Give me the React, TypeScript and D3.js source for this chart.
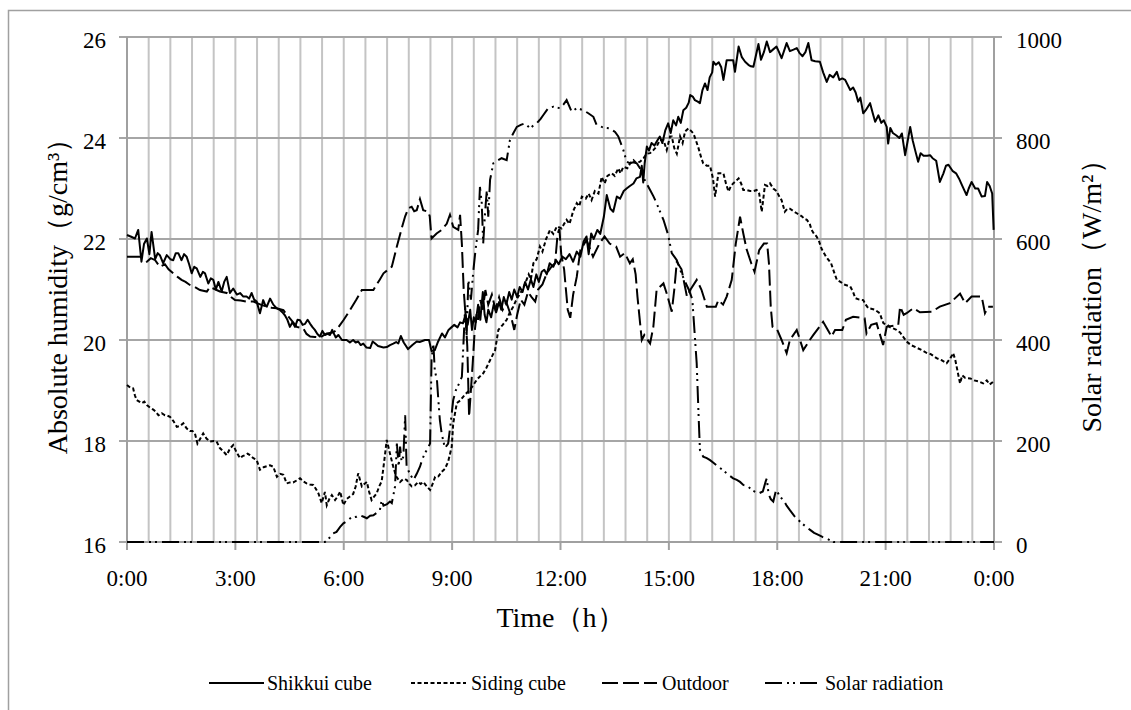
import React from 'react';
import * as d3 from 'd3';

type Pt = [number, number];

// ---- axis ticks / labels ----
const hourTicks = [0, 3, 6, 9, 12, 15, 18, 21, 24];
const hourLabels = ['0:00', '3:00', '6:00', '9:00', '12:00', '15:00', '18:00', '21:00', '0:00'];
const leftTicks = [16, 18, 20, 22, 24, 26];
const rightTicks = [0, 200, 400, 600, 800, 1000];
const gridStepHours = 0.6;

const seriesNames = ['Shikkui cube', 'Siding cube', 'Outdoor', 'Solar radiation'];

// ---- data: [hour, value] ----
const shikkui: Pt[] = [
  [0, 22.08], [0.1, 22.05], [0.22, 22.01], [0.31, 22.18], [0.4, 21.55], [0.47, 21.9], [0.55, 22.01], [0.62, 21.7],
  [0.68, 22.14], [0.78, 21.6], [0.85, 21.72], [0.91, 21.68], [1.0, 21.52], [1.1, 21.68], [1.2, 21.6], [1.28, 21.58],
  [1.35, 21.72], [1.42, 21.72], [1.51, 21.58], [1.58, 21.7], [1.65, 21.65], [1.72, 21.5], [1.79, 21.32], [1.86, 21.45],
  [1.93, 21.42], [2.03, 21.25], [2.1, 21.35], [2.16, 21.32], [2.25, 21.12], [2.32, 21.22], [2.39, 21.19], [2.46, 21.0],
  [2.53, 21.15], [2.62, 20.96], [2.69, 21.15], [2.76, 21.25], [2.85, 20.93], [2.94, 21.02], [3.04, 20.9], [3.13, 20.93],
  [3.22, 20.86], [3.31, 20.86], [3.38, 20.82], [3.45, 20.93], [3.52, 20.8], [3.59, 20.76], [3.68, 20.53], [3.77, 20.79],
  [3.82, 20.7], [3.87, 20.66], [3.96, 20.82], [4.05, 20.7], [4.14, 20.63], [4.24, 20.59], [4.3, 20.55], [4.37, 20.49],
  [4.44, 20.4], [4.51, 20.26], [4.58, 20.35], [4.65, 20.26], [4.72, 20.4], [4.79, 20.39], [4.86, 20.3], [4.93, 20.32],
  [5.0, 20.4], [5.07, 20.32], [5.14, 20.25], [5.2, 20.2], [5.27, 20.12], [5.34, 20.07], [5.41, 20.18], [5.48, 20.1],
  [5.55, 20.12], [5.62, 20.1], [5.68, 20.2], [5.71, 20.15], [5.78, 20.05], [5.85, 20.1], [5.95, 20.0], [6.08, 20.0],
  [6.17, 19.95], [6.26, 20.0], [6.33, 19.95], [6.4, 19.97], [6.47, 19.9], [6.54, 19.93], [6.63, 19.85], [6.73, 19.84],
  [6.8, 19.97], [6.87, 19.93], [6.95, 19.88], [7.0, 19.87], [7.1, 19.85], [7.19, 19.86], [7.28, 19.9], [7.37, 19.93],
  [7.45, 19.96], [7.51, 19.93], [7.58, 20.08], [7.66, 19.95], [7.78, 19.82], [7.9, 19.9], [8.02, 19.97], [8.1, 19.96],
  [8.25, 20.0], [8.36, 20.0], [8.43, 19.78], [8.52, 19.8], [8.6, 19.95], [8.72, 20.13], [8.8, 20.05], [8.9, 20.2],
  [8.98, 20.25], [9.06, 20.3], [9.15, 20.25], [9.22, 20.35], [9.3, 20.33], [9.37, 20.5], [9.43, 20.3], [9.5, 20.6],
  [9.55, 20.2], [9.6, 20.45], [9.65, 20.35], [9.72, 20.7], [9.78, 20.4], [9.85, 20.95], [9.9, 20.5], [9.95, 20.35],
  [10.0, 20.6], [10.08, 20.45], [10.15, 20.7], [10.22, 20.55], [10.3, 20.75], [10.36, 20.6], [10.43, 20.85], [10.5, 20.7],
  [10.58, 20.95], [10.65, 20.8], [10.72, 21.0], [10.8, 20.85], [10.87, 21.05], [10.95, 20.95], [11.02, 21.15], [11.1, 21.0],
  [11.18, 21.2], [11.25, 21.05], [11.33, 21.3], [11.4, 21.15], [11.48, 21.35], [11.55, 21.39], [11.62, 21.3], [11.7, 21.52],
  [11.8, 21.45], [11.88, 21.58], [11.95, 21.5], [12.05, 21.65], [12.15, 21.6], [12.25, 21.7], [12.35, 21.55], [12.45, 21.75],
  [12.55, 21.65], [12.64, 21.95], [12.72, 22.05], [12.78, 21.7], [12.85, 22.11], [12.92, 22.0], [13.02, 22.18], [13.1, 22.1],
  [13.2, 22.44], [13.28, 22.87], [13.38, 22.6], [13.46, 22.54], [13.56, 22.84], [13.65, 22.8], [13.75, 22.95], [13.83, 23.0],
  [13.92, 23.05], [14.02, 23.1], [14.1, 23.2], [14.2, 23.23], [14.25, 23.45], [14.29, 23.12], [14.33, 23.5], [14.39, 23.83],
  [14.45, 23.75], [14.52, 23.9], [14.6, 23.85], [14.68, 23.95], [14.75, 24.03], [14.82, 23.9], [14.9, 24.15], [14.98, 24.29],
  [15.05, 24.1], [15.12, 24.35], [15.2, 24.25], [15.26, 24.42], [15.33, 24.3], [15.4, 24.55], [15.48, 24.6], [15.55, 24.7],
  [15.59, 24.85], [15.66, 24.82], [15.72, 24.75], [15.8, 24.72], [15.86, 24.69], [15.93, 24.95], [16.0, 25.08], [16.07, 24.95],
  [16.13, 25.2], [16.2, 25.3], [16.23, 25.51], [16.3, 25.45], [16.38, 25.5], [16.45, 25.4], [16.51, 25.15], [16.6, 25.54],
  [16.7, 25.54], [16.78, 25.54], [16.83, 25.31], [16.93, 25.81], [17.02, 25.6], [17.11, 25.51], [17.2, 25.45], [17.27, 25.42],
  [17.34, 25.41], [17.48, 25.86], [17.55, 25.55], [17.63, 25.7], [17.71, 25.91], [17.8, 25.7], [17.88, 25.75], [17.98, 25.81],
  [18.05, 25.7], [18.12, 25.58], [18.26, 25.88], [18.35, 25.72], [18.45, 25.75], [18.54, 25.78], [18.62, 25.68], [18.7, 25.62],
  [18.78, 25.7], [18.86, 25.88], [18.95, 25.54], [19.05, 25.52], [19.18, 25.51], [19.27, 25.3], [19.37, 25.11], [19.45, 25.25],
  [19.55, 25.2], [19.65, 25.31], [19.72, 25.15], [19.8, 25.18], [19.88, 25.15], [20.02, 24.95], [20.1, 25.0], [20.17, 24.9],
  [20.24, 24.72], [20.3, 24.8], [20.38, 24.49], [20.45, 24.55], [20.57, 24.69], [20.64, 24.5], [20.71, 24.32], [20.8, 24.45],
  [20.88, 24.3], [20.95, 24.35], [21.03, 24.22], [21.07, 23.89], [21.13, 24.2], [21.2, 24.1], [21.3, 24.05], [21.38, 24.0],
  [21.45, 24.09], [21.54, 23.66], [21.6, 23.9], [21.68, 24.22], [21.75, 23.95], [21.82, 23.75], [21.9, 23.53], [21.97, 23.7],
  [22.05, 23.65], [22.15, 23.65], [22.23, 23.66], [22.3, 23.6], [22.4, 23.55], [22.5, 23.13], [22.6, 23.3], [22.67, 23.45],
  [22.74, 23.47], [22.85, 23.35], [22.95, 23.3], [23.03, 23.2], [23.11, 23.07], [23.24, 22.87], [23.3, 23.0], [23.38, 23.13],
  [23.48, 23.0], [23.56, 23.0], [23.66, 22.84], [23.75, 22.85], [23.81, 23.13], [23.88, 23.05], [23.95, 22.9], [23.99, 22.18],
];

const siding: Pt[] = [
  [0, 19.11], [0.1, 19.05], [0.17, 19.04], [0.22, 18.9], [0.27, 18.81], [0.34, 18.78], [0.41, 18.75], [0.48, 18.78],
  [0.55, 18.71], [0.64, 18.66], [0.73, 18.62], [0.8, 18.58], [0.87, 18.51], [0.96, 18.55], [1.05, 18.51], [1.12, 18.5],
  [1.19, 18.48], [1.28, 18.4], [1.38, 18.28], [1.47, 18.3], [1.56, 18.35], [1.65, 18.25], [1.74, 18.2], [1.81, 18.2],
  [1.88, 18.15], [1.95, 17.95], [2.03, 18.05], [2.11, 18.15], [2.2, 18.05], [2.3, 17.99], [2.4, 18.0], [2.48, 17.99],
  [2.57, 17.86], [2.66, 17.8], [2.76, 17.72], [2.85, 17.85], [2.94, 17.92], [3.03, 17.78], [3.13, 17.66], [3.2, 17.7],
  [3.27, 17.72], [3.34, 17.75], [3.4, 17.72], [3.5, 17.66], [3.59, 17.62], [3.68, 17.43], [3.78, 17.48], [3.87, 17.5],
  [3.96, 17.52], [4.05, 17.49], [4.15, 17.29], [4.24, 17.35], [4.33, 17.33], [4.42, 17.16], [4.51, 17.18], [4.6, 17.18],
  [4.7, 17.22], [4.79, 17.26], [4.88, 17.2], [4.97, 17.16], [5.06, 17.14], [5.16, 17.13], [5.23, 17.05], [5.3, 16.96],
  [5.39, 16.77], [5.44, 16.9], [5.48, 16.99], [5.53, 16.73], [5.6, 16.85], [5.67, 16.93], [5.76, 16.83], [5.83, 16.9],
  [5.9, 17.0], [5.99, 16.73], [6.08, 16.85], [6.17, 16.9], [6.26, 16.95], [6.33, 17.1], [6.4, 17.36], [6.5, 17.1],
  [6.57, 17.15], [6.64, 17.19], [6.7, 17.0], [6.77, 16.83], [6.84, 16.9], [6.91, 16.96], [6.98, 17.1], [7.05, 17.2],
  [7.12, 17.6], [7.19, 18.02], [7.28, 17.75], [7.37, 17.49], [7.45, 17.3], [7.56, 17.19], [7.65, 17.25], [7.74, 17.23],
  [7.82, 17.15], [7.88, 17.1], [7.97, 17.12], [8.06, 17.19], [8.13, 17.15], [8.2, 17.19], [8.3, 17.1], [8.39, 17.03],
  [8.46, 17.15], [8.53, 17.29], [8.62, 17.3], [8.71, 17.39], [8.8, 17.45], [8.89, 17.59], [8.99, 17.89], [9.03, 18.35],
  [9.13, 18.75], [9.22, 18.8], [9.31, 18.88], [9.4, 18.95], [9.49, 19.01], [9.58, 19.1], [9.68, 19.21], [9.77, 19.28],
  [9.86, 19.34], [9.95, 19.45], [10.05, 19.6], [10.12, 19.7], [10.19, 19.8], [10.28, 20.2], [10.4, 20.3], [10.51, 20.4],
  [10.6, 20.55], [10.69, 20.66], [10.78, 20.8], [10.88, 20.92], [10.95, 21.0], [11.02, 21.12], [11.12, 21.3], [11.18, 21.2],
  [11.25, 21.52], [11.34, 21.6], [11.43, 21.85], [11.5, 21.75], [11.6, 22.0], [11.71, 22.18], [11.8, 22.1], [11.9, 22.25],
  [12.03, 22.21], [12.1, 22.3], [12.17, 22.38], [12.25, 22.3], [12.35, 22.55], [12.45, 22.71], [12.52, 22.65], [12.59, 22.84],
  [12.7, 22.8], [12.78, 22.9], [12.86, 22.77], [12.95, 22.95], [13.05, 22.9], [13.14, 23.23], [13.22, 23.1], [13.3, 23.25],
  [13.42, 23.3], [13.5, 23.25], [13.6, 23.4], [13.66, 23.3], [13.74, 23.43], [13.85, 23.4], [13.93, 23.5], [14.02, 23.56],
  [14.1, 23.5], [14.2, 23.53], [14.3, 23.6], [14.39, 23.69], [14.48, 23.7], [14.57, 23.76], [14.66, 23.83], [14.75, 23.96],
  [14.85, 23.96], [14.94, 23.76], [15.03, 24.03], [15.08, 24.03], [15.15, 23.8], [15.22, 23.69], [15.31, 24.03], [15.38, 23.9],
  [15.45, 24.13], [15.54, 24.19], [15.6, 24.15], [15.68, 24.09], [15.75, 23.95], [15.82, 23.8], [15.9, 23.6], [15.95, 23.5],
  [16.05, 23.45], [16.14, 23.45], [16.22, 23.2], [16.28, 22.84], [16.37, 23.3], [16.45, 23.3], [16.51, 23.3], [16.58, 23.1],
  [16.65, 22.94], [16.72, 23.05], [16.78, 23.1], [16.86, 23.15], [16.93, 23.2], [17.0, 23.1], [17.06, 22.97], [17.15, 22.97],
  [17.25, 22.95], [17.35, 22.95], [17.43, 22.97], [17.5, 22.9], [17.57, 22.54], [17.66, 23.07], [17.73, 23.05], [17.8, 23.1],
  [17.89, 23.0], [17.98, 22.95], [18.05, 22.85], [18.12, 22.77], [18.21, 22.54], [18.28, 22.6], [18.35, 22.6], [18.45, 22.55],
  [18.54, 22.51], [18.61, 22.48], [18.68, 22.45], [18.75, 22.4], [18.82, 22.38], [18.9, 22.3], [18.95, 22.18], [19.02, 22.1],
  [19.09, 22.05], [19.16, 21.95], [19.23, 21.8], [19.35, 21.65], [19.49, 21.52], [19.57, 21.35], [19.65, 21.19], [19.75, 21.15],
  [19.85, 21.1], [20.02, 21.06], [20.1, 20.95], [20.16, 20.83], [20.27, 20.8], [20.38, 20.79], [20.45, 20.7], [20.52, 20.63],
  [20.6, 20.62], [20.7, 20.6], [20.84, 20.53], [20.9, 20.4], [20.94, 20.33], [21.05, 20.3], [21.13, 20.25], [21.21, 20.23],
  [21.3, 20.2], [21.4, 20.15], [21.5, 20.05], [21.58, 19.97], [21.7, 19.9], [21.85, 19.85], [22.0, 19.8], [22.12, 19.75],
  [22.25, 19.72], [22.41, 19.64], [22.55, 19.6], [22.69, 19.54], [22.8, 19.65], [22.87, 19.74], [22.93, 19.6], [23.0, 19.35],
  [23.06, 19.14], [23.12, 19.3], [23.2, 19.25], [23.34, 19.24], [23.45, 19.2], [23.58, 19.18], [23.7, 19.14], [23.8, 19.2],
  [23.88, 19.12], [23.97, 19.17],
];

const outdoor: Pt[] = [
  [0, 21.65], [0.4, 21.65], [0.55, 21.55], [0.66, 21.62], [0.78, 21.58], [0.91, 21.45], [1.05, 21.5], [1.15, 21.4],
  [1.28, 21.32], [1.4, 21.25], [1.51, 21.19], [1.62, 21.15], [1.74, 21.09], [1.88, 21.05], [2.02, 20.99], [2.21, 20.96],
  [2.3, 21.05], [2.39, 21.02], [2.57, 20.96], [2.76, 20.93], [2.88, 20.85], [2.99, 20.79], [3.15, 20.78], [3.31, 20.76],
  [3.5, 20.76], [3.7, 20.7], [3.87, 20.66], [4.0, 20.64], [4.14, 20.63], [4.33, 20.59], [4.42, 20.5], [4.51, 20.43],
  [4.6, 20.35], [4.7, 20.26], [4.88, 20.23], [4.97, 20.12], [5.07, 20.07], [5.2, 20.06], [5.34, 20.05], [5.53, 20.13],
  [5.71, 20.15], [5.8, 20.2], [6.0, 20.4], [6.17, 20.59], [6.35, 20.8], [6.5, 20.99], [6.82, 20.99], [7.0, 21.2],
  [7.1, 21.32], [7.33, 21.45], [7.47, 21.85], [7.6, 22.2], [7.7, 22.45], [7.79, 22.61], [7.88, 22.64], [7.95, 22.55],
  [8.02, 22.57], [8.11, 22.79], [8.2, 22.57], [8.34, 22.54], [8.38, 22.45], [8.43, 22.01], [8.57, 22.11], [8.71, 22.18],
  [8.85, 22.3], [8.94, 22.48], [9.03, 22.24], [9.17, 22.18], [9.22, 22.48], [9.27, 21.9], [9.32, 21.0], [9.37, 20.5],
  [9.42, 19.87], [9.47, 18.48], [9.52, 19.01], [9.57, 19.54], [9.62, 20.13], [9.68, 20.53], [9.72, 20.4], [9.78, 20.79],
  [9.85, 20.6], [9.92, 20.99], [10.0, 20.7], [10.1, 20.9], [10.2, 20.6], [10.3, 20.85], [10.4, 20.6], [10.5, 20.75],
  [10.62, 20.5], [10.72, 20.2], [10.8, 20.5], [10.9, 20.8], [11.0, 20.7], [11.1, 20.95], [11.2, 20.85], [11.3, 20.76],
  [11.38, 21.0], [11.5, 21.1], [11.62, 21.32], [11.75, 21.45], [11.85, 21.52], [11.92, 22.1], [11.97, 22.2], [12.02, 21.7],
  [12.1, 21.4], [12.2, 20.6], [12.27, 20.44], [12.35, 20.9], [12.45, 21.25], [12.55, 21.78], [12.72, 21.98], [12.9, 21.65],
  [13.08, 21.91], [13.22, 22.05], [13.36, 21.91], [13.54, 21.85], [13.65, 21.65], [13.78, 21.72], [13.92, 21.52], [14.0, 21.6],
  [14.08, 21.3], [14.13, 20.86], [14.25, 20.0], [14.32, 20.1], [14.48, 19.93], [14.57, 20.26], [14.66, 20.99], [14.85, 21.12],
  [14.95, 20.9], [15.08, 20.56], [15.15, 21.0], [15.22, 21.55], [15.35, 21.4], [15.5, 20.86], [15.6, 21.0], [15.77, 21.19],
  [15.9, 21.0], [16.05, 20.66], [16.3, 20.66], [16.37, 20.79], [16.5, 20.7], [16.6, 20.86], [16.74, 21.19], [16.85, 21.9],
  [16.97, 22.44], [17.06, 22.11], [17.15, 21.8], [17.28, 21.52], [17.37, 21.35], [17.5, 21.78], [17.63, 21.91], [17.72, 21.91],
  [17.77, 21.52], [17.82, 20.66], [17.87, 20.26], [18.0, 20.2], [18.12, 20.0], [18.26, 19.74], [18.35, 20.0], [18.54, 20.2],
  [18.72, 19.8], [18.9, 20.0], [19.0, 20.1], [19.27, 20.36], [19.4, 20.2], [19.5, 20.07], [19.6, 20.2], [19.8, 20.2],
  [19.9, 20.4], [20.1, 20.46], [20.42, 20.43], [20.47, 20.13], [20.6, 20.3], [20.75, 20.33], [20.93, 19.9], [21.03, 20.26],
  [21.35, 20.3], [21.4, 20.66], [21.5, 20.5], [21.58, 20.53], [21.77, 20.63], [21.95, 20.55], [22.28, 20.56], [22.5, 20.66],
  [22.78, 20.73], [23.06, 20.92], [23.2, 20.73], [23.38, 20.86], [23.66, 20.86], [23.75, 20.53], [23.84, 20.66], [23.97, 20.66],
];

const solar: Pt[] = [
  [0, 0], [5.48, 0], [5.6, 8], [5.7, 17], [5.8, 20], [5.9, 30], [5.99, 37], [6.1, 42], [6.2, 48], [6.36, 50], [6.45, 53],
  [6.55, 50], [6.64, 47], [6.73, 52], [6.82, 53], [6.92, 58], [7.0, 63], [7.05, 83], [7.1, 72], [7.2, 75], [7.28, 80],
  [7.33, 77], [7.38, 95], [7.42, 110], [7.47, 195], [7.52, 150], [7.56, 189], [7.6, 160], [7.65, 169], [7.7, 251],
  [7.74, 149], [7.83, 135], [7.93, 123], [8.02, 135], [8.11, 149], [8.18, 165], [8.25, 176], [8.32, 185], [8.39, 195],
  [8.43, 360], [8.48, 393], [8.52, 340], [8.58, 321], [8.62, 280], [8.66, 242], [8.71, 215], [8.8, 186], [8.89, 195],
  [8.95, 230], [8.99, 255], [9.03, 281], [9.1, 300], [9.2, 315], [9.27, 327], [9.31, 387], [9.36, 466], [9.4, 406],
  [9.45, 519], [9.52, 480], [9.59, 539], [9.65, 580], [9.72, 618], [9.77, 703], [9.82, 671], [9.86, 591], [9.91, 650],
  [9.96, 697], [10.0, 644], [10.05, 717], [10.14, 750], [10.25, 755], [10.37, 760], [10.51, 756], [10.6, 796], [10.69, 809],
  [10.79, 822], [10.9, 826], [11.02, 829], [11.16, 819], [11.25, 825], [11.34, 829], [11.45, 838], [11.52, 845], [11.66, 859],
  [11.8, 862], [11.9, 860], [11.99, 859], [12.08, 866], [12.17, 875], [12.31, 852], [12.45, 859], [12.55, 857], [12.63, 855],
  [12.77, 849], [12.91, 842], [13.0, 826], [13.14, 822], [13.25, 820], [13.37, 819], [13.51, 812], [13.6, 803], [13.74, 776],
  [13.83, 753], [13.92, 750], [14.02, 752], [14.11, 750], [14.2, 740], [14.29, 723], [14.38, 710], [14.48, 697], [14.57, 685],
  [14.66, 671], [14.75, 655], [14.85, 638], [14.98, 608], [15.08, 572], [15.15, 565], [15.22, 558], [15.35, 532], [15.45, 515],
  [15.55, 500], [15.65, 480], [15.72, 406], [15.77, 354], [15.82, 255], [15.86, 182], [15.95, 169], [16.05, 166], [16.14, 162],
  [16.25, 156], [16.37, 149], [16.5, 142], [16.65, 133], [16.78, 126], [16.88, 123], [16.97, 119], [17.06, 113], [17.18, 111],
  [17.29, 103], [17.4, 99], [17.48, 96], [17.6, 100], [17.68, 120], [17.71, 126], [17.76, 95], [17.82, 85], [17.89, 80],
  [17.95, 98], [17.98, 103], [18.07, 90], [18.17, 83], [18.26, 72], [18.35, 63], [18.49, 50], [18.68, 37], [18.8, 30],
  [18.91, 24], [19.02, 18], [19.14, 14], [19.25, 10], [19.37, 7], [19.55, 0], [24, 0],
];

// ---- layout ----
const W = 1131;
const H = 710;
const PL = 127;
const PR = 994;
const PT = 37;
const PB = 542;
const SERIF = '"Liberation Serif", "Times New Roman", serif';

const css = '.ser { font-family: "Liberation Serif", "Times New Roman", serif; fill: #000; }';

export default function App() {
  React.useEffect(() => {
    document.body.style.fontFamily = SERIF;
  }, []);

  const x = d3.scaleLinear().domain([0, 24]).range([PL, PR]);
  const yL = d3.scaleLinear().domain([16, 26]).range([PB, PT]);
  const yR = d3.scaleLinear().domain([0, 1000]).range([PB, PT]);

  const lineL = d3.line<Pt>().x((d) => x(d[0])).y((d) => yL(d[1]));
  const lineR = d3.line<Pt>().x((d) => x(d[0])).y((d) => yR(d[1]));

  const nGrid = Math.round(24 / gridStepHours);
  const vGrid = d3.range(1, nGrid).map((i) => i * gridStepHours);

  const gridV = '#c4c4c4';
  const gridH = '#a6a6a6';
  const axisC = '#a0a0a0';

  const styles = [
    { name: seriesNames[0], dash: undefined as string | undefined },
    { name: seriesNames[1], dash: '4,2.5' },
    { name: seriesNames[2], dash: '16,5' },
    { name: seriesNames[3], dash: '17,5,2,4,2,5' },
  ];

  const legendItems = [
    { lx: 209, tx: 267 },
    { lx: 411, tx: 471 },
    { lx: 602, tx: 662 },
    { lx: 765, tx: 825 },
  ];
  const legendY = 683;
  const fs = (n: number) => ({ fontFamily: SERIF, fontSize: n, fill: '#000' });

  return (
    <div style={{ position: 'absolute', left: 0, top: 0, fontFamily: SERIF }}>
      <svg width={W} height={H} style={{ fontFamily: SERIF }}>
        <style>{css}</style>
        <rect x={0} y={0} width={W} height={H} fill="#fff" />
        {/* chart border */}
        <rect x={8.5} y={10.5} width={1300} height={900} fill="none" stroke={axisC} strokeWidth={1.5} />

        {/* vertical grid */}
        {vGrid.map((h, i) => (
          <line key={'vg' + i} x1={x(h)} x2={x(h)} y1={PT} y2={PB} stroke={gridV} strokeWidth={2} />
        ))}
        {/* horizontal grid */}
        {leftTicks.map((v) => (
          <line key={'hg' + v} x1={PL - 8} x2={PR + 8} y1={yL(v)} y2={yL(v)} stroke={gridH} strokeWidth={2} />
        ))}
        {/* axes */}
        <line x1={PL} x2={PL} y1={PT} y2={PB} stroke={axisC} strokeWidth={2} />
        <line x1={PR} x2={PR} y1={PT} y2={PB} stroke={axisC} strokeWidth={2} />
        <line x1={PL} x2={PR} y1={PB} y2={PB} stroke={axisC} strokeWidth={2} />
        {hourTicks.map((h) => (
          <line key={'xt' + h} x1={x(h)} x2={x(h)} y1={PB} y2={PB + 8} stroke={axisC} strokeWidth={2} />
        ))}

        {/* series */}
        <path d={lineL(outdoor) || ''} fill="none" stroke="#000" strokeWidth={2} strokeDasharray={styles[2].dash} />
        <path d={lineR(solar) || ''} fill="none" stroke="#000" strokeWidth={2} strokeDasharray={styles[3].dash} />
        <path d={lineL(siding) || ''} fill="none" stroke="#000" strokeWidth={2} strokeDasharray={styles[1].dash} />
        <path d={lineL(shikkui) || ''} fill="none" stroke="#000" strokeWidth={2} strokeLinejoin="round" />

        <g className="ser" fontFamily="Liberation Serif">
          {/* left tick labels */}
          {leftTicks.map((v) => (
            <text key={'lt' + v} x={106} y={yL(v) + 10.5} textAnchor="end" style={fs(23)}>
              {String(v)}
            </text>
          ))}
          {/* right tick labels */}
          {rightTicks.map((v) => (
            <text key={'rt' + v} x={1016} y={yR(v) + 10.5} textAnchor="start" style={fs(23)}>
              {String(v)}
            </text>
          ))}
          {/* x tick labels */}
          {hourTicks.map((h, i) => (
            <text key={'xl' + h} x={x(h)} y={586} textAnchor="middle" style={fs(23)}>
              {hourLabels[i]}
            </text>
          ))}

          {/* axis titles */}
          <text x={(PL + PR) / 2} y={627} textAnchor="middle" style={fs(28)}>
            Time（h）
          </text>
          <text transform={`translate(67,${(PT + PB) / 2}) rotate(-90)`} textAnchor="middle" style={fs(28)}>
            Absolute humidity（g/cm³）
          </text>
          <text transform={`translate(1101,${(PT + PB) / 2}) rotate(-90)`} textAnchor="middle" style={fs(28)}>
            Solar radiation（W/m²）
          </text>

          {/* legend */}
          {styles.map((s, i) => (
            <g key={'lg' + i}>
              <line
                x1={legendItems[i].lx}
                x2={legendItems[i].lx + 55}
                y1={legendY}
                y2={legendY}
                stroke="#000"
                strokeWidth={2}
                strokeDasharray={s.dash}
              />
              <text x={legendItems[i].tx} y={legendY + 7} style={fs(20)}>
                {s.name}
              </text>
            </g>
          ))}
        </g>
      </svg>
    </div>
  );
}
